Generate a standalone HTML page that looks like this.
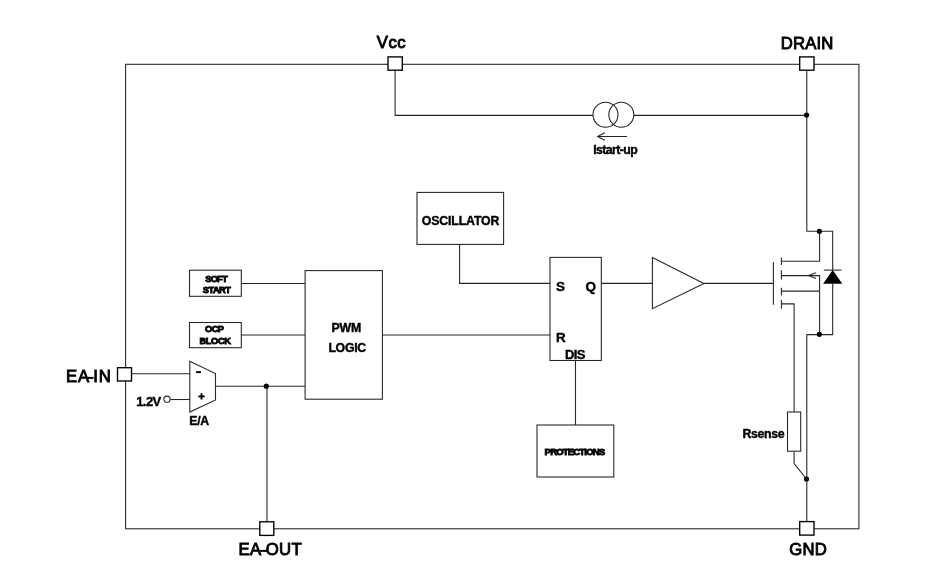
<!DOCTYPE html>
<html>
<head>
<meta charset="utf-8">
<title>Block diagram</title>
<style>
html,body{margin:0;padding:0;background:#fff;}
body{width:939px;height:588px;overflow:hidden;font-family:"Liberation Sans",sans-serif;}
svg{display:block;position:absolute;left:0;top:0;will-change:transform;}
.w{stroke:#262626;stroke-width:1.08;fill:none;stroke-linecap:butt;stroke-linejoin:miter;}
.b{stroke:#262626;stroke-width:1.08;fill:#fff;}
.pad{stroke:#000;stroke-width:1.35;fill:#fff;}
.dot{fill:#000;stroke:none;}
text{font-family:"Liberation Sans",sans-serif;font-weight:bold;fill:#000;stroke:#000;stroke-width:0.3;stroke-linejoin:miter;stroke-miterlimit:2.5;}
.t17{font-size:16.7px;font-weight:normal;stroke-width:0.9;}
.t13{font-size:13px;stroke-width:0.4;}
.t12{font-size:12.3px;stroke-width:0.4;}
.t9{font-size:9.3px;stroke-width:0.85;}
.t95{font-size:9.6px;stroke-width:0.85;}
</style>
</head>
<body>
<svg width="939" height="588" viewBox="0 0 939 588">
<!-- outer frame -->
<rect class="w" x="125.6" y="64.3" width="733.3" height="464.5"/>

<!-- Vcc / start-up current source wiring -->
<path class="w" d="M395.1 70 V115.4 H592.9"/>
<path class="w" d="M633.9 115.4 H806.8"/>
<circle class="w" cx="605.5" cy="114.8" r="12.5"/>
<circle class="w" cx="621.3" cy="114.8" r="12.5"/>
<path class="w" d="M627 136.5 H598 M604.7 132.7 L597.7 136.5 L604.7 140.3"/>

<!-- drain wiring -->
<path class="w" d="M806.8 70 V231.3 H832.7 V270.1"/>
<path class="w" d="M819.6 231.3 V261.3 H781.4"/>
<!-- mosfet -->
<path class="w" d="M703.9 283.4 H773.4"/>
<path class="w" d="M773.4 262.1 V304.7"/>
<path class="w" d="M781.4 257.4 V265 M781.4 270.3 V279.5 M781.4 287.7 V295.4 M781.4 300 V308.7"/>
<path class="w" d="M781.4 275.6 H819.6 V334.5"/>
<path class="w" d="M816 272.8 L808.4 275.6 L816 278.4"/>
<path class="w" d="M781.4 291.1 H819.6"/>
<path class="w" d="M781.4 303.9 H794.1 V412"/>
<!-- diode -->
<path class="w" d="M823.8 270.1 H841.6"/>
<path d="M832.7 270 L842.3 283.7 H823.1 Z" fill="#000"/>
<path class="w" d="M832.7 283 V334.6 H806.8 V521.5"/>
<!-- Rsense -->
<rect class="b" x="787.5" y="412" width="13.2" height="39.2"/>
<path class="w" d="M794.1 451.2 V463.6 L806.5 479"/>

<!-- buffer -->
<path class="w" d="M601.3 283.4 H652.4"/>
<path class="b" d="M652.4 257.4 L703.9 283.4 L652.4 308.7 Z"/>

<!-- SR latch -->
<rect class="b" x="550" y="257.4" width="51.3" height="103.1"/>
<path class="w" d="M459.6 244.4 V283.4 H550"/>
<path class="w" d="M382.4 335 H550"/>
<path class="w" d="M575.5 360.5 V425"/>

<!-- blocks -->
<rect class="b" x="417" y="192.4" width="86.6" height="52"/>
<rect class="b" x="537" y="425" width="76.8" height="52"/>
<rect class="b" x="305.1" y="270.6" width="77.3" height="128.6"/>
<rect class="b" x="189.5" y="270.2" width="51.8" height="26.1"/>
<rect class="b" x="189.5" y="322.5" width="51.8" height="25.2"/>
<path class="w" d="M241.3 283.5 H305.1"/>
<path class="w" d="M241.3 335 H305.1"/>

<!-- error amp -->
<path class="w" d="M131.8 373.7 H189.8"/>
<path class="b" d="M189.8 361.3 L215.5 373.6 V400 L189.8 412.1 Z"/>
<path class="w" d="M215.5 386.3 H305.1"/>
<path class="w" d="M267 386.3 V521.5"/>
<path class="w" d="M170.3 399.5 H189.8"/>
<circle class="w" cx="167" cy="399.2" r="3.1" fill="#fff"/>
<path d="M196.2 372.1 H200.9" stroke="#000" stroke-width="2" fill="none"/>
<path d="M198.3 396.4 H204.8 M201.5 393.2 V399.6" stroke="#000" stroke-width="1.9" fill="none"/>

<!-- junction dots -->
<circle class="dot" cx="806.6" cy="115.1" r="2.6"/>
<circle class="dot" cx="819.4" cy="231.3" r="2.6"/>
<circle class="dot" cx="819.4" cy="334.3" r="2.6"/>
<circle class="dot" cx="806.5" cy="479" r="2.6"/>
<circle class="dot" cx="266.3" cy="386.2" r="2.6"/>

<!-- pads -->
<rect class="pad" x="388" y="56.9" width="14.3" height="13.3"/>
<rect class="pad" x="799.7" y="56.9" width="14.3" height="13.3"/>
<rect class="pad" x="117.5" y="367.7" width="14.0" height="13.3"/>
<rect class="pad" x="259.8" y="521.8" width="14.0" height="13.6"/>
<rect class="pad" x="799.7" y="521.6" width="14.3" height="13.5"/>

<!-- labels -->
<text class="t17" x="376.8" y="48.4" textLength="28.8" lengthAdjust="spacing">Vcc</text>
<text class="t17" x="780.8" y="48.55" textLength="52.6" lengthAdjust="spacing">DRAIN</text>
<text class="t17" x="65.95" y="381.95" textLength="23.3" lengthAdjust="spacing">EA</text>
<path d="M87.3 377.9 H93.5" stroke="#000" stroke-width="2" fill="none"/>
<text class="t17" x="93.3" y="381.95" textLength="17.5" lengthAdjust="spacing">IN</text>
<text class="t17" x="238.6" y="555.2" textLength="22.5" lengthAdjust="spacing">EA</text>
<path d="M260.1 550.9 H266.9" stroke="#000" stroke-width="2" fill="none"/>
<text class="t17" x="265.75" y="555.2" textLength="35.9" lengthAdjust="spacing">OUT</text>
<text class="t17" x="789.3" y="555.25" textLength="37.6" lengthAdjust="spacing">GND</text>
<text class="t12" x="593.2" y="153.9" textLength="44.6" lengthAdjust="spacing">Istart-up</text>
<text class="t12" x="421.8" y="225.2" textLength="77.6" lengthAdjust="spacing">OSCILLATOR</text>
<text class="t9" x="205.3" y="281.5" textLength="22.3" lengthAdjust="spacing">SOFT</text>
<text class="t9" x="202.7" y="292.9" textLength="28.3" lengthAdjust="spacing">START</text>
<text class="t9" x="205.1" y="332.1" textLength="18.9" lengthAdjust="spacing">OCP</text>
<text class="t9" x="199.6" y="343.7" textLength="31.3" lengthAdjust="spacing">BLOCK</text>
<text class="t12" x="331.4" y="332.35" textLength="29.8" lengthAdjust="spacing">PWM</text>
<text class="t12" x="328.4" y="352.0" textLength="37.8" lengthAdjust="spacing">LOGIC</text>
<text class="t13" style="font-size:13.5px" x="556.0" y="291.1">S</text>
<text class="t13" style="font-size:13.5px" x="585.4" y="291.1">Q</text>
<text class="t13" style="font-size:13.4px" x="556.1" y="342.4">R</text>
<text class="t13" x="564.9" y="359.1" textLength="20.6" lengthAdjust="spacing">DIS</text>
<text class="t95" x="544.6" y="455.2" textLength="60.6" lengthAdjust="spacing">PROTECTIONS</text>
<text class="t12" x="742.6" y="438.25" textLength="41.9" lengthAdjust="spacing">Rsense</text>
<text class="t13" x="136.2" y="405.6" textLength="25" lengthAdjust="spacing">1.2V</text>
<text class="t12" x="189.2" y="424.8" textLength="20" lengthAdjust="spacing">E/A</text>
</svg>
</body>
</html>
